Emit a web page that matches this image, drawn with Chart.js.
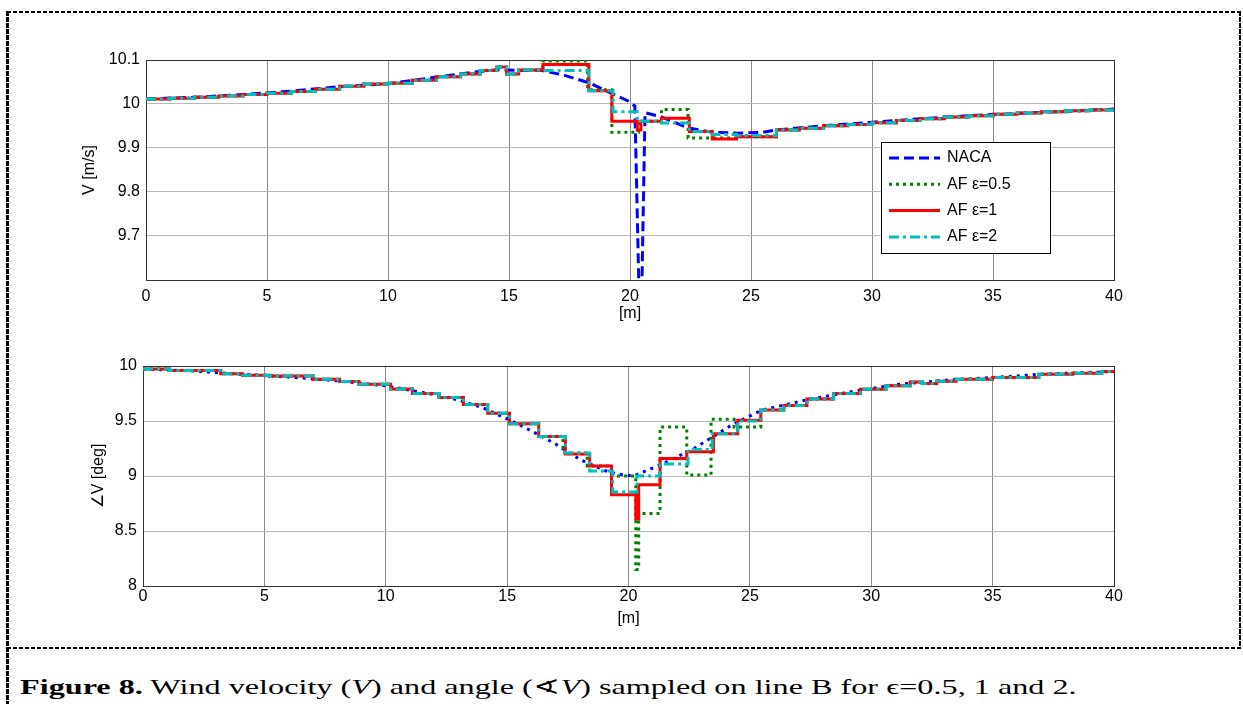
<!DOCTYPE html>
<html>
<head>
<meta charset="utf-8">
<script src="https://cdn.jsdelivr.net/npm/chart.js@4.4.1/dist/chart.umd.min.js"></script>
<style>
  body { margin: 0; width: 1243px; height: 704px; overflow: hidden; background: #fff; position: relative; }
  canvas { position: absolute; left: 0; }
  #velChart { top: 0; }
  #angChart { top: 330px; }
  .hline { position: absolute; height: 2px; background: repeating-linear-gradient(to right, #000 0 4px, transparent 4px 6px); }
  .vline { position: absolute; width: 3px; background: repeating-linear-gradient(to bottom, #000 0 5px, transparent 5px 6px); }
  #caption { position: absolute; left: 20px; top: 675px; font: 21px "Liberation Serif", "Times New Roman", serif; white-space: nowrap; transform-origin: 0 0; line-height: 24px; }
</style>
</head>
<body>
<div class="hline" style="left:7px; top:11px; width:1236px"></div>
<div class="vline" style="left:6px; top:11px; height:693px"></div>
<div class="vline" style="left:1239px; top:11px; height:638px; width:2px"></div>
<div class="hline" style="left:7px; top:647px; width:1236px"></div>
<canvas id="velChart" width="1243" height="330"></canvas>
<canvas id="angChart" width="1243" height="300"></canvas>
<div id="caption"><b>Figure 8.</b> Wind velocity (<i>V</i>) and angle (∢<i>V</i>) sampled on line B for ϵ=0.5, 1 and 2.</div>
<script>
// axis ticks
const xTicks = [0, 5, 10, 15, 20, 25, 30, 35, 40];
const velTicks = [9.7, 9.8, 9.9, 10, 10.1];
const angTicks = [8, 8.5, 9, 9.5, 10];
const seriesNames = ["NACA", "AF ε=0.5", "AF ε=1", "AF ε=2"];

// velocity V [m/s] vs position [m]
const velNaca = [[0,10.011],[2,10.015],[4,10.021],[6,10.029],[8,10.039],[10,10.046],[12,10.061],[13.5,10.072],[14.5,10.078],
  [15.5,10.076],[16.3,10.077],[17.3,10.065],[18.3,10.048],[19,10.03],[19.9,10.007],[20.2,9.995],[20.38,9.55],[20.48,9.55],
  [20.62,9.98],[21.3,9.97],[22.4,9.945],[23.4,9.935],[24.5,9.933],[25.5,9.935],[26,9.94],[28,9.95],[30,9.958],[32,9.966],
  [34,9.973],[36,9.978],[38,9.983],[40,9.988]];
// AF curves share the same steps away from the obstacle
const velStart = [[0,10.011],[1,10.013],[2,10.015],[3,10.018],[4,10.021],[5,10.024],[6,10.028],[7,10.033],[8,10.04],
  [9,10.045],[10,10.047],[11,10.054],[12,10.062],[13,10.068],[13.8,10.076],[14.5,10.084],[14.9,10.068],[15.4,10.077]];
const velEnd = [[26.05,9.94],[27,9.944],[28,9.95],[29,9.953],[30,9.957],[31,9.962],[32,9.966],[33,9.97],[34,9.973],
  [35,9.976],[36,9.979],[37,9.982],[38,9.984],[39,9.986],[40,9.988]];
const velAf05 = velStart.concat([[16.4,10.098],[18.25,10.032],[19.25,9.935],[20.35,9.96],[21.3,9.987],[22.4,9.922],[24.4,9.925]], velEnd);
const velAf1 = velStart.concat([[16.4,10.09],[18.3,10.03],[19.25,9.96],[20.3,9.94],[20.45,9.96],[21.3,9.967],[22.45,9.937],[23.4,9.92],[24.4,9.925]], velEnd);
const velAf2 = velStart.concat([[16.4,10.076],[18.3,10.03],[19.3,9.982],[20.3,9.96],[21.3,9.956],[22.45,9.937],[23.4,9.93],[24.4,9.928]], velEnd);

// angle [deg] vs position [m]
const angNaca = [[0,9.972],[2,9.955],[4,9.925],[6,9.9],[8,9.865],[10,9.82],[12,9.74],[13,9.69],[14,9.62],[15,9.52],[16,9.41],
  [17,9.29],[18,9.15],[19,9.05],[19.5,9.02],[20.2,9.0],[21.3,9.1],[22.7,9.25],[24.3,9.47],[25.5,9.6],[27.3,9.69],[29,9.76],
  [31,9.83],[33,9.87],[35,9.895],[37,9.925],[40,9.95]];
const angStart = [[0,9.972],[1.1,9.958],[3.2,9.93],[4.1,9.915],[5.2,9.908],[7,9.88],[8.1,9.86],[8.9,9.835],[10.2,9.79],
  [11.1,9.75],[12.2,9.713],[13.2,9.65],[14.2,9.57],[15.1,9.476],[16.3,9.36]];
const angEnd = [[25.45,9.6],[26.4,9.64],[27.35,9.7],[28.45,9.75],[29.55,9.788],[30.6,9.82],[31.6,9.855],[32.1,9.842],
  [32.7,9.862],[33.5,9.88],[35,9.895],[36.9,9.925],[38.3,9.935],[39.5,9.95],[40,9.952]];
const angAf05 = angStart.concat([[17.3,9.21],[18.3,9.09],[19.3,9.0],[20.3,8.15],[20.42,8.66],[21.3,9.445],[22.4,9.01],[23.4,9.515],[24.35,9.445]], angEnd);
const angAf1 = angStart.concat([[17.4,9.2],[18.4,9.09],[19.3,8.83],[20.3,8.61],[20.42,8.92],[21.3,9.16],[22.4,9.22],[23.5,9.385],[24.5,9.506]], angEnd);
const angAf2 = angStart.concat([[17.4,9.21],[18.4,9.045],[19.35,8.855],[20.35,9.0],[21.3,9.11],[22.45,9.24],[23.45,9.385],[24.5,9.5]], angEnd);

Chart.defaults.font.family = '"Liberation Sans", Arial, sans-serif';
Chart.defaults.font.size = 16;
Chart.defaults.color = '#000';

function line(label, pts, color, dash, stepped, order) {
  return {
    label: label,
    data: pts.map(p => ({ x: p[0], y: p[1] })),
    borderColor: color,
    borderWidth: 3,
    borderDash: dash,
    stepped: stepped,
    order: order,
    pointRadius: 0,
    tension: 0,
    fill: false
  };
}

// box round the plot area
const frame = {
  id: 'frame',
  beforeDatasetsDraw(chart) {
    const a = chart.chartArea, ctx = chart.ctx;
    ctx.save();
    ctx.strokeStyle = '#333';
    ctx.lineWidth = 1;
    ctx.strokeRect(Math.round(a.left) + 0.5, Math.round(a.top) + 0.5, Math.round(a.right - a.left), Math.round(a.bottom - a.top));
    ctx.restore();
  }
};

// legend drawn inside the top plot
const legendBox = {
  id: 'legendBox',
  afterDatasetsDraw(chart) {
    const ctx = chart.ctx;
    ctx.save();
    ctx.fillStyle = '#fff';
    ctx.fillRect(881, 142, 169, 111);
    ctx.strokeStyle = '#000';
    ctx.lineWidth = 1;
    ctx.strokeRect(881.5, 142.5, 169, 111);
    chart.data.datasets.forEach((ds, i) => {
      const y = 158 + i * 26.3;
      ctx.setLineDash(ds.borderDash);
      ctx.strokeStyle = ds.borderColor;
      ctx.lineWidth = ds.borderWidth;
      ctx.beginPath();
      ctx.moveTo(889, y);
      ctx.lineTo(940, y);
      ctx.stroke();
      ctx.setLineDash([]);
      ctx.fillStyle = '#000';
      ctx.font = '16px "Liberation Sans", Arial, sans-serif';
      ctx.textBaseline = 'middle';
      ctx.fillText(ds.label, 947, y);
    });
    ctx.restore();
  }
};

function scales(yTicks, yMin, yMax, yTitle, yWidth, yTitlePad, xHeight, xTickPad, xTitlePad) {
  return {
    x: {
      type: 'linear', min: 0, max: 40,
      afterBuildTicks: s => { s.ticks = xTicks.map(v => ({ value: v })); },
      afterFit: s => { s.height = xHeight; },
      ticks: { padding: xTickPad, maxRotation: 0, callback: v => String(v) },
      grid: { color: '#8a8a8a', lineWidth: 1, drawTicks: false },
      border: { color: '#000' },
      title: { display: true, text: '[m]', padding: { top: 0, bottom: xTitlePad } }
    },
    y: {
      type: 'linear', min: yMin, max: yMax,
      afterBuildTicks: s => { s.ticks = yTicks.map(v => ({ value: v })); },
      afterFit: s => { s.width = yWidth; },
      ticks: { padding: 6, callback: v => String(v) },
      grid: { color: '#b8b8b8', lineWidth: 1, drawTicks: false },
      border: { color: '#000' },
      title: { display: true, text: yTitle, padding: { top: yTitlePad, bottom: 0 } }
    }
  };
}

const common = {
  responsive: false,
  animation: false,
  plugins: { legend: { display: false }, tooltip: { enabled: false } }
};

new Chart(document.getElementById('velChart').getContext('2d'), {
  type: 'line',
  data: {
    datasets: [
      line(seriesNames[0], velNaca, '#0000ff', [10, 5], false, 4),
      line(seriesNames[1], velAf05, '#008000', [3, 4], true, 3),
      line(seriesNames[2], velAf1, '#ff0000', [], true, 2),
      line(seriesNames[3], velAf2, '#00bfbf', [10, 4, 3, 4], true, 1)
    ]
  },
  options: Object.assign({}, common, {
    layout: { padding: { top: 60, right: 129, left: 0, bottom: 0 } },
    scales: scales(velTicks, 9.598, 10.1, 'V [m/s]', 146, 80, 50, 7, 7)
  }),
  plugins: [frame, legendBox]
});

new Chart(document.getElementById('angChart').getContext('2d'), {
  type: 'line',
  data: {
    datasets: [
      line(seriesNames[0], angNaca, '#0000ff', [3, 5], false, 4),
      line(seriesNames[1], angAf05, '#008000', [3, 4], true, 3),
      line(seriesNames[2], angAf1, '#ff0000', [], true, 2),
      line(seriesNames[3], angAf2, '#00bfbf', [10, 4, 3, 4], true, 1)
    ]
  },
  options: Object.assign({}, common, {
    layout: { padding: { top: 36, right: 129, left: 0, bottom: 0 } },
    scales: scales(angTicks, 8, 10, '∠V [deg]', 143, 89, 44, 1, 2)
  }),
  plugins: [frame]
});

// caption is stretched a little wider in the figure
const cap = document.getElementById('caption');
cap.style.transform = 'scaleX(' + (1057 / cap.offsetWidth) + ')';
</script>
</body>
</html>
